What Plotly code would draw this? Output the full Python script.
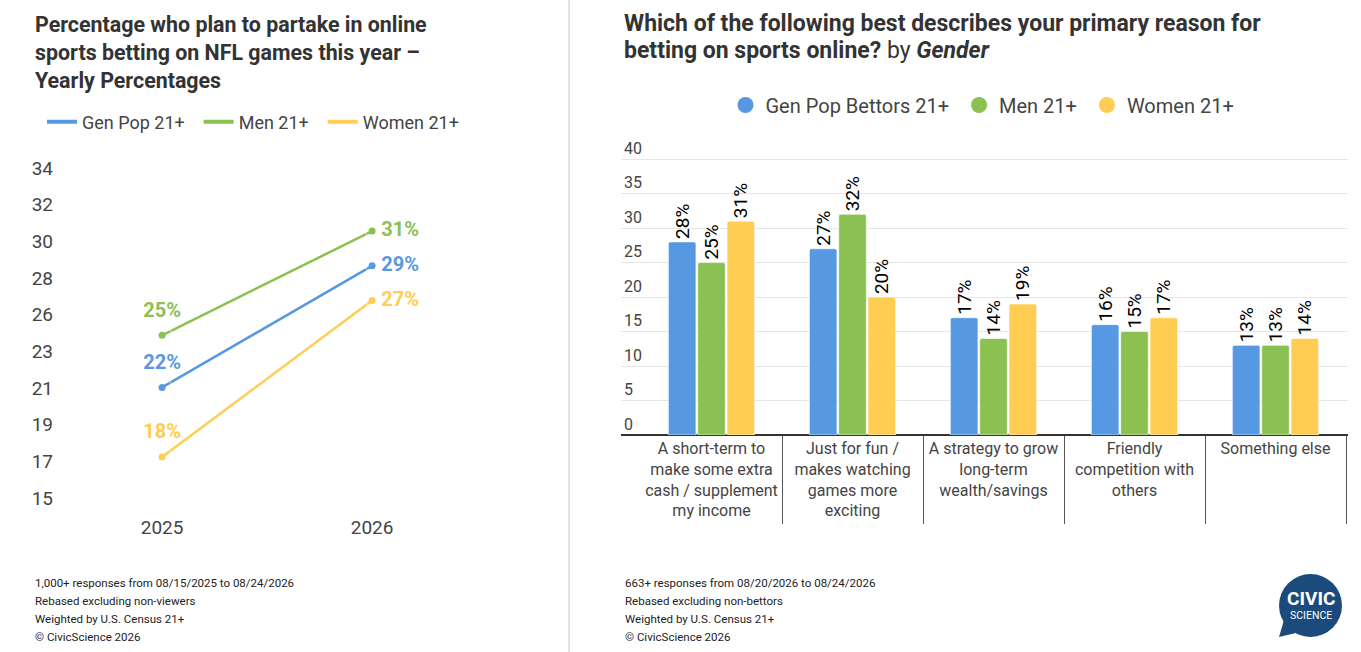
import numpy as np
import plotly.graph_objects as go

# %% data
years = [2025, 2026]
gen_pop = [22, 29]
men = [25, 31]
women = [18, 27]
left_ticktext = ["15", "17", "19", "21", "23", "26", "28", "30", "32", "34"]

reasons = [
    "A short-term to<br>make some extra<br>cash / supplement<br>my income",
    "Just for fun /<br>makes watching<br>games more<br>exciting",
    "A strategy to grow<br>long-term<br>wealth/savings",
    "Friendly<br>competition with<br>others",
    "Something else",
]
bettors_gen_pop = [28, 27, 17, 16, 13]
bettors_men = [25, 32, 14, 15, 13]
bettors_women = [31, 20, 19, 17, 14]
right_ticks = [0, 5, 10, 15, 20, 25, 30, 35, 40]

left_notes = [
    "1,000+ responses from 08/15/2025 to 08/24/2026",
    "Rebased excluding non-viewers",
    "Weighted by U.S. Census 21+",
    "© CivicScience 2026",
]
right_notes = [
    "663+ responses from 08/20/2026 to 08/24/2026",
    "Rebased excluding non-bettors",
    "Weighted by U.S. Census 21+",
    "© CivicScience 2026",
]
right_title = [
    "<b>Which of the following best describes your primary reason for</b>",
    "<b>betting on sports online?</b> by <b><i>Gender</i></b>",
]

# %% style
W, H = 1361, 652
BLUE = "#5698E2"
GREEN = "#8BC052"
YELLOW = "#FFCD52"
DARK = "#333333"
GREY = "#444444"
FONT = "Roboto"
NB = "\u00a0"
PX_PER_PCT = 275 / 40   # right chart: 40 points over 275 px


def px(x):
    return x / W


def py(y):
    return 1 - y / H


fig = go.Figure()

# %% left: line chart
for name, vals, col in [("Gen Pop 21+", gen_pop, BLUE),
                        ("Men 21+", men, GREEN),
                        ("Women 21+", women, YELLOW)]:
    fig.add_trace(go.Scatter(
        x=years, y=vals,
        mode="lines+markers",
        line=dict(color=col, width=2.5),
        marker=dict(color=col, size=7),
        showlegend=False,
        xaxis="x", yaxis="y",
    ))
    # value labels (invisible, larger markers push the text a bit further out)
    fig.add_trace(go.Scatter(
        x=years, y=vals,
        mode="markers+text",
        marker=dict(color="rgba(0,0,0,0)", size=[20, 13]),
        text=[f"{v}%" for v in vals],
        textposition=["top center", "middle right"],
        textfont=dict(color=col, size=20, family=FONT, weight="bold"),
        cliponaxis=False,
        hoverinfo="skip",
        showlegend=False,
        xaxis="x", yaxis="y",
    ))
    # legend entry (line only)
    fig.add_trace(go.Scatter(
        x=[None], y=[None], mode="lines", name=name + NB * 2,
        line=dict(color=col, width=4),
        legend="legend",
        xaxis="x", yaxis="y",
    ))

# %% right: grouped bars
cats = list(range(len(reasons)))
for name, vals, col in [("Gen Pop Bettors 21+", bettors_gen_pop, BLUE),
                        ("Men 21+", bettors_men, GREEN),
                        ("Women 21+", bettors_women, YELLOW)]:
    fig.add_trace(go.Bar(
        x=cats, y=vals,
        marker=dict(color=col, line=dict(color="white", width=0.6), cornerradius=2),
        text=[f"{v}%" for v in vals],
        textposition="outside",
        textangle=-90,
        constraintext="none",
        textfont=dict(color="black", size=19, family=FONT),
        cliponaxis=False,
        showlegend=False,
        xaxis="x2", yaxis="y2",
    ))
    fig.add_trace(go.Scatter(
        x=[None], y=[None], mode="markers", name=name + NB,
        marker=dict(color=col, size=19, symbol="circle"),
        legend="legend2",
        xaxis="x2", yaxis="y2",
    ))

# %% layout
fig.update_layout(
    width=W, height=H,
    margin=dict(l=0, r=0, t=0, b=0, autoexpand=False),
    paper_bgcolor="white",
    plot_bgcolor="white",
    font=dict(family=FONT, color=GREY),
    barmode="group",
    bargap=0.376,
    bargroupgap=0.06,
    xaxis=dict(
        domain=[px(60), px(475)],
        range=[2024.514, 2026.49],
        tickvals=years,
        ticktext=[str(y) for y in years],
        showgrid=False, zeroline=False, showline=False,
        tickfont=dict(size=19, color=GREY),
        ticklabelstandoff=5,
        automargin=False,
        fixedrange=True,
    ),
    yaxis=dict(
        domain=[py(509), py(179)],
        range=[15, 34],
        tickvals=list(np.linspace(15, 34, 10)),
        ticktext=left_ticktext,
        showgrid=False, zeroline=False, showline=False,
        tickfont=dict(size=19, color=GREY),
        ticklabelshift=-11,
        ticklabelstandoff=6,
        automargin=False,
        fixedrange=True,
    ),
    xaxis2=dict(
        domain=[px(621), px(1348)],
        range=[-0.5 - 20 / 141, 4.5 + 2 / 141],
        anchor="y2",
        tickvals=cats,
        ticktext=reasons,
        ticks="",
        showgrid=False, zeroline=False, showline=False,
        tickfont=dict(size=16, color=GREY),
        ticklabelstandoff=2,
        minor=dict(
            tickmode="array",
            tickvals=[c - 0.5 for c in cats] + [cats[-1] + 0.5],
            ticks="outside", ticklen=88, tickwidth=1, tickcolor="#555555",
            showgrid=False,
        ),
        automargin=False,
        fixedrange=True,
    ),
    yaxis2=dict(
        # head-room above 40 so the "40" label (drawn above its gridline)
        # stays inside the plot area
        domain=[py(435), py(159 - 5 * PX_PER_PCT)],
        range=[0, 45],
        anchor="x2",
        tickvals=right_ticks,
        showgrid=True, gridcolor="#E6E6E6", gridwidth=1,
        zeroline=True, zerolinecolor="#333333", zerolinewidth=2,
        showline=False,
        ticklabelposition="inside",
        ticklabelshift=-11,
        tickfont=dict(size=16, color=GREY),
        automargin=False,
        fixedrange=True,
    ),
    legend=dict(
        orientation="h",
        x=px(42), xanchor="left",
        y=py(122), yanchor="middle",
        font=dict(size=18, color=GREY),
        itemwidth=30,
        bgcolor="rgba(0,0,0,0)",
    ),
    legend2=dict(
        orientation="h",
        x=px(985), xanchor="center",
        y=py(105), yanchor="middle",
        font=dict(size=20, color=GREY),
        bgcolor="rgba(0,0,0,0)",
    ),
)

# %% titles, footers, divider, logo
fig.add_annotation(
    x=px(33), y=py(9.5), xref="paper", yref="paper",
    xanchor="left", yanchor="top", align="left", showarrow=False,
    text="<b>Percentage who plan to partake in online<br>"
         "sports betting on NFL games this year –<br>"
         "Yearly Percentages</b>",
    font=dict(size=21.4, color=DARK, family=FONT),
)
for i, line in enumerate(right_title):
    fig.add_annotation(
        x=px(622), y=py(23 + 28 * i), xref="paper", yref="paper",
        xanchor="left", yanchor="middle", align="left", showarrow=False,
        text=line,
        font=dict(size=23, color=DARK, family=FONT),
    )

for x0, notes in [(33, left_notes), (623, right_notes)]:
    for i, line in enumerate(notes):
        fig.add_annotation(
            x=px(x0), y=py(583 + 18 * i), xref="paper", yref="paper",
            xanchor="left", yanchor="middle", align="left", showarrow=False,
            text=line,
            font=dict(size=11.5, color="#222222", family=FONT),
        )

fig.add_shape(type="line", xref="paper", yref="paper",
              x0=px(569), x1=px(569), y0=0, y1=1,
              line=dict(color="#E3E3E3", width=2))

LOGO = "#1B4B7C"
fig.add_shape(type="circle", xref="paper", yref="paper",
              x0=px(1279), x1=px(1342), y0=py(637), y1=py(574),
              fillcolor=LOGO, line=dict(width=0))
fig.add_shape(type="path", xref="paper", yref="paper",
              path=f"M {px(1284)},{py(620)} L {px(1279)},{py(637)} L {px(1300)},{py(632)} Z",
              fillcolor=LOGO, line=dict(width=0))
fig.add_annotation(x=px(1311), y=py(598), xref="paper", yref="paper",
                   xanchor="center", yanchor="middle",
                   text="<b>CIVIC</b>", showarrow=False,
                   font=dict(size=19, color="white", family=FONT))
fig.add_annotation(x=px(1311), y=py(615), xref="paper", yref="paper",
                   xanchor="center", yanchor="middle",
                   text="SCIENCE", showarrow=False,
                   font=dict(size=10.5, color="white", family=FONT))

fig.write_html(
    "out.html",
    config={"displayModeBar": False},
    post_script=(
        "document.documentElement.style.margin='0';"
        "document.body.style.margin='0';"
        "var gd=document.querySelector('.plotly-graph-div');"
        "gd.style.position='fixed';gd.style.top='0';gd.style.left='0';"
    ),
)
